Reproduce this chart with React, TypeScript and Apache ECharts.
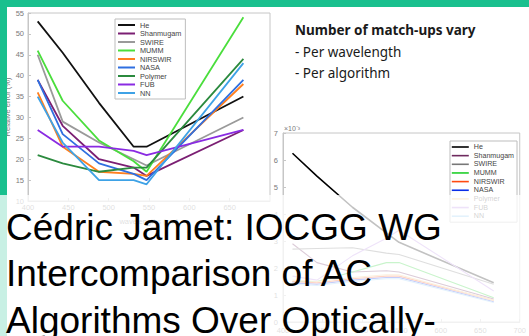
import React, { useEffect, useRef } from "react";
import * as echarts from "echarts";

// ---------- data ----------
const wavelengths = [412, 443, 488, 531, 547, 667];
const algorithms = ["He", "Shanmugam", "SWIRE", "MUMM", "NIRSWIR", "NASA", "Polymer", "FUB", "NN"];

// Relative error (%) per algorithm (left chart)
const relHe = [53, 45.5, 33.5, 23, 23, 35];
const relShanmugam = [39, 28, 20, 18, 16, 27];
const relSWIRE = [45, 29, 24, 20, 18.5, 30];
const relMUMM = [46, 34, 24.5, 19.5, 17, 54];
const relNIRSWIR = [36, 23, 17, 16.5, 16, 38];
const relNASA = [39, 26, 19, 16.5, 15, 39];
const relPolymer = [21, 19, 17, 18, 18, 44];
const relFUB = [27, 23, 23, 22, 21, 27];
const relNN = [35, 24, 15, 15, 14, 43];

// RMS (x10^-3) per algorithm (right chart)
const rmsHe = [6.25, 5.4, 4.25, 3.3, 2.95, 1.45];
const rmsShanmugam = [2.9, 2.2, 1.85, 1.9, 1.85, 0.85];
const rmsSWIRE = [2.7, 2.72, 2.75, 2.55, 2.5, 1.4];
const rmsMUMM = [1.5, 1.5, 1.85, 2.2, 2.2, 0.9];
const rmsNIRSWIR = [1.5, 1.45, 1.6, 1.7, 1.7, 0.8];
const rmsNASA = [1.45, 1.4, 1.55, 1.65, 1.65, 0.75];
const rmsPolymer = [1.55, 1.5, 1.65, 1.75, 1.75, 0.8];
const rmsFUB = [1.7, 1.55, 2.45, 3.1, 3.4, 1.15];
const rmsNN = [1.4, 1.35, 1.5, 1.6, 1.6, 0.72];

const relSets = [relHe, relShanmugam, relSWIRE, relMUMM, relNIRSWIR, relNASA, relPolymer, relFUB, relNN];
const rmsSets = [rmsHe, rmsShanmugam, rmsSWIRE, rmsMUMM, rmsNIRSWIR, rmsNASA, rmsPolymer, rmsFUB, rmsNN];

const titleLines = ["Cédric Jamet: IOCGG WG", "Intercomparison of AC", "Algorithms Over Optically-"];
const noteHeading = "Number of match-ups vary";
const noteLines = ["- Per wavelength", "- Per algorithm"];

// ---------- styles ----------
const relColors = ["#111111", "#7b1f73", "#9a9a9a", "#4ade3c", "#ff7f1e", "#2f6fe0", "#2b8a3e", "#8a2be2", "#3ea2e6"];
const rmsColors = ["#000000", "#6e2a5e", "#777777", "#1fcf2a", "#ff4a10", "#0a2ee8", "#f0c27a", "#b98be6", "#8cc8f2"];
const TEAL = "#19c08e";
const AXIS = "#c6c6c6";
const LABEL = "#7a7a7a";
const HIDDEN_SYMBOL = { color: "rgba(0,0,0,0)", opacity: 0, borderWidth: 0 };

export default function App() {
  const ref = useRef<HTMLDivElement>(null);
  useEffect(() => {
    if (!ref.current) return;
    const chart = echarts.init(ref.current, undefined, { renderer: "svg" });

    const pairs = (vals: number[]) => wavelengths.map((w, i) => [w, vals[i]]);

    const series: any[] = [];
    algorithms.forEach((name, i) => {
      series.push({
        name,
        type: "line",
        xAxisIndex: 0,
        yAxisIndex: 0,
        data: pairs(relSets[i]),
        symbol: "none",
        lineStyle: { color: relColors[i], width: 1.8 },
        itemStyle: { color: relColors[i] },
        z: 3,
      });
    });
    algorithms.forEach((name, i) => {
      series.push({
        name,
        type: "line",
        xAxisIndex: 1,
        yAxisIndex: 1,
        data: pairs(rmsSets[i]),
        symbol: "none",
        lineStyle: { color: rmsColors[i], width: i === 0 ? 1.6 : 1.1 },
        itemStyle: { color: rmsColors[i] },
        z: 3,
      });
    });

    const axisCommon = {
      axisLine: { show: true, lineStyle: { color: AXIS, width: 1 } },
      axisTick: { show: true, inside: true, length: 3, lineStyle: { color: AXIS } },
      splitLine: { show: false },
    };

    const option: any = {
      animation: false,
      backgroundColor: "#ffffff",
      textStyle: { fontFamily: "Liberation Sans" },
      grid: [
        { left: 28, top: 13, width: 242, height: 188, show: true, borderColor: AXIS, borderWidth: 1, backgroundColor: "rgba(0,0,0,0)" },
        { left: 283, top: 133, width: 237, height: 189, show: true, borderColor: AXIS, borderWidth: 1, backgroundColor: "rgba(0,0,0,0)" },
      ],
      xAxis: [
        {
          type: "value", gridIndex: 0, min: 400, max: 700, interval: 50,
          name: "wavelengths (nm)", nameLocation: "middle", nameGap: 16,
          nameTextStyle: { color: LABEL, fontSize: 7.5 },
          axisLabel: { color: LABEL, fontSize: 7.5, margin: 2, showMaxLabel: false },
          ...axisCommon,
        },
        {
          type: "value", gridIndex: 1, min: 400, max: 700, interval: 50,
          axisLabel: { color: LABEL, fontSize: 7.5, margin: 4 },
          ...axisCommon,
        },
      ],
      yAxis: [
        {
          type: "value", gridIndex: 0, min: 10, max: 55, interval: 5,
          name: "Relative error (%)", nameLocation: "middle", nameGap: 17, nameRotate: 90,
          nameTextStyle: { color: LABEL, fontSize: 7.5 },
          axisLabel: { color: LABEL, fontSize: 7.5, margin: 4 },
          ...axisCommon,
        },
        {
          type: "value", gridIndex: 1, min: 0, max: 7, interval: 1,
          axisLabel: { color: LABEL, fontSize: 7.5, margin: 5 },
          ...axisCommon,
        },
      ],
      legend: [
        {
          orient: "vertical", left: 115, top: 19, padding: [2, 4, 2, 2],
          itemWidth: 17, itemHeight: 8, itemGap: 0.5,
          backgroundColor: "#ffffff", borderColor: "#bdbdbd", borderWidth: 1,
          textStyle: { fontSize: 7.3, color: "#444444", lineHeight: 8 },
          data: algorithms.map((n, i) => ({ name: n, itemStyle: HIDDEN_SYMBOL, lineStyle: { color: relColors[i], width: 2 } })),
          z: 5,
        },
        {
          orient: "vertical", left: 450, top: 141, padding: [2, 3, 2, 1],
          itemWidth: 17, itemHeight: 8, itemGap: 0.65,
          backgroundColor: "#ffffff", borderColor: "#bdbdbd", borderWidth: 1,
          textStyle: { fontSize: 7.1, color: "#444444", lineHeight: 8 },
          data: algorithms.map((n, i) => ({ name: n, itemStyle: HIDDEN_SYMBOL, lineStyle: { color: rmsColors[i], width: 1.6 } })),
          z: 5,
        },
      ],
      series,
      graphic: [
        { type: "rect", z: 60, shape: { x: 0, y: 0, width: 529, height: 7 }, style: { fill: TEAL } },
        { type: "rect", z: 60, shape: { x: 0, y: 0, width: 7, height: 336 }, style: { fill: TEAL } },
        { type: "text", z: 60, x: 284, y: 128, style: { text: "×10⁻³", fill: LABEL, fontSize: 7, fontFamily: "Liberation Sans", verticalAlign: "middle" } },
        { type: "text", z: 60, x: 295, y: 29.8, style: { text: noteHeading, fill: "#1a1a1a", fontSize: 13.5, fontWeight: "bold", fontFamily: "Noto Sans", verticalAlign: "middle" } },
        ...noteLines.map((t, i) => ({ type: "text", z: 60, x: 295, y: 51.8 + i * 21, style: { text: t, fill: "#1a1a1a", fontSize: 13.5, fontFamily: "Noto Sans", verticalAlign: "middle" } })),
        { type: "rect", z: 100, shape: { x: 0, y: 195, width: 529, height: 141 }, style: { fill: "rgba(255,255,255,0.76)" } },
        ...titleLines.map((t, i) => ({ type: "text", z: 101, x: 6, y: 227 + i * 46.5, style: { text: t, fill: "#000000", fontSize: 37, fontFamily: "Liberation Sans", verticalAlign: "middle" } })),
      ],
    };
    chart.setOption(option);
    return () => chart.dispose();
  }, []);
  return <div ref={ref} style={{ position: "fixed", left: 0, top: 0, width: 529, height: 336 }} />;
}
